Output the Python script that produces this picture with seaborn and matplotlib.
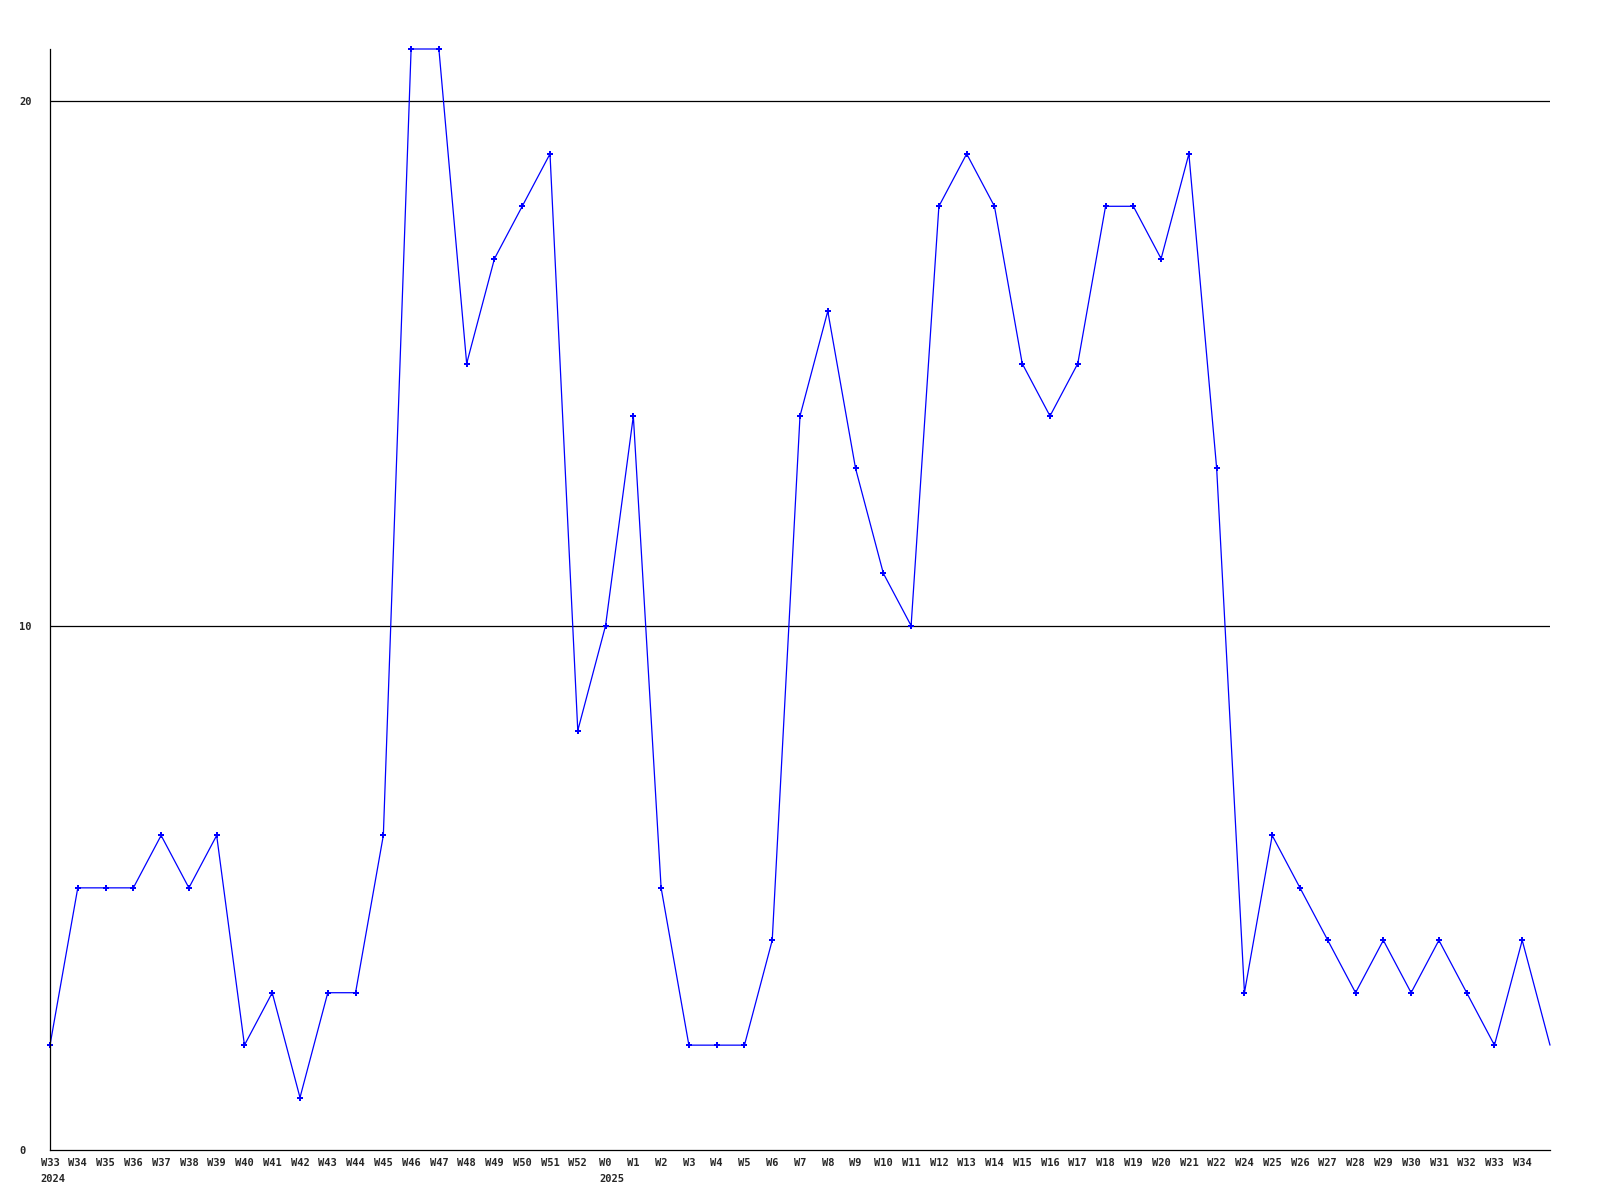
import numpy as np
import pandas as pd
import matplotlib
matplotlib.use('Agg')
import matplotlib.pyplot as plt
import seaborn as sns

week_labels = (['W%d' % w for w in range(33, 53)] + ['W%d' % w for w in range(0, 23)]
               + ['W%d' % w for w in range(24, 35)] + [''])
values = [2, 5, 5, 5, 6, 5, 6, 2, 3, 1, 3, 3, 6, 21, 21, 15, 17, 18, 19, 8,
          10, 14, 5, 2, 2, 2, 4, 14, 16, 13, 11, 10, 18, 19, 18, 15, 14, 15, 18, 18,
          17, 19, 13, 3, 6, 5, 4, 3, 4, 3, 4, 3, 2, 4, 2]
# year shown under the first week of each year (index into week_labels)
year_labels = {0: '2024', 20: '2025'}
y_ticks = [0, 10, 20]

df = pd.DataFrame({'pos': np.arange(len(values)), 'value': values, 'week': week_labels})

sns.set_style('white')
plt.rcParams['font.family'] = ['DejaVu Sans Mono']
fsize = 7.5

fig = plt.figure(figsize=(16, 12), dpi=100)
ax = fig.add_axes([50 / 1600, 50 / 1200, 1500 / 1600, 1101 / 1200])

sns.lineplot(data=df, x='pos', y='value', ax=ax, color='#0000ff', linewidth=0.9,
             marker='P', markersize=4, markeredgewidth=0, clip_on=False,
             markevery=list(range(len(values) - 1)))

for t in y_ticks[1:]:
    ax.axhline(t, color='black', linewidth=0.9, zorder=0)

ax.set_xlim(0, len(values) - 1)
ax.set_ylim(0, 21)
ax.set_xticks(df['pos'][:-1])
ax.set_xticklabels(week_labels[:-1], fontsize=fsize, fontweight='bold')
ax.set_yticks(y_ticks)
ax.set_yticklabels([str(t) for t in y_ticks], fontsize=fsize, fontweight='bold', ha='left')
ax.tick_params(axis='y', length=0, pad=22)
ax.tick_params(axis='x', length=0, pad=6)
ax.set_xlabel('')
ax.set_ylabel('')

for sp in ['top', 'right']:
    ax.spines[sp].set_visible(False)
for sp in ['left', 'bottom']:
    ax.spines[sp].set_color('black')
    ax.spines[sp].set_linewidth(0.9)

char_w = 0.602 * fsize
for i, year in year_labels.items():
    lab = week_labels[i]
    ax.annotate(year, xy=(i, 0), xycoords=('data', 'axes fraction'),
                xytext=(-len(lab) * char_w / 2, -17), textcoords='offset points',
                ha='left', va='top', fontsize=fsize, fontweight='bold')

fig.savefig('out.png', dpi=100)
